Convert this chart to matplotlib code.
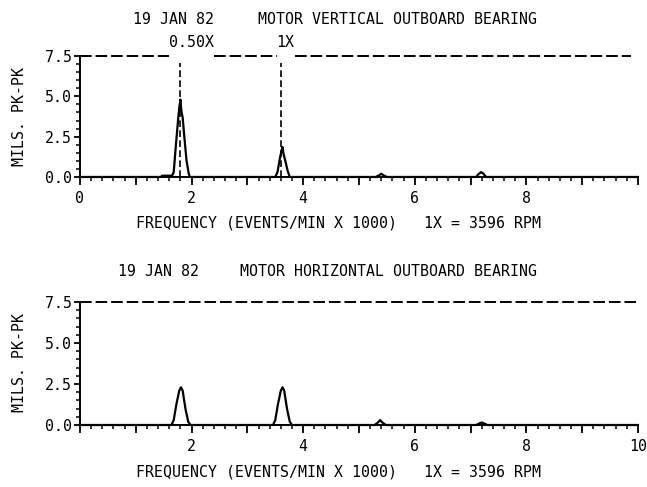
import matplotlib
matplotlib.use("Agg")
import matplotlib.pyplot as plt
from matplotlib.ticker import FixedLocator, FixedFormatter, MultipleLocator

plt.rcParams["font.family"] = ["DejaVu Sans Mono"]
plt.rcParams["font.size"] = 10.7

# running speed, events/min x 1000
run_1x = 3.596
alert_level = 7.5

# vertical outboard bearing spectrum
top_freq = [0.0, 1.45, 1.47, 1.65, 1.68, 1.72, 1.76, 1.78, 1.80, 1.82, 1.84, 1.87, 1.91, 1.95, 1.97,
            3.50, 3.54, 3.58, 3.61, 3.63, 3.65, 3.68, 3.72, 3.76,
            5.30, 5.36, 5.40, 5.44, 5.50,
            7.10, 7.15, 7.19, 7.23, 7.28, 10.0]
top_amp = [0, 0, 0.08, 0.08, 0.3, 2.0, 3.6, 4.3, 4.8, 4.0, 3.7, 2.5, 1.0, 0.2, 0,
           0, 0.3, 1.1, 1.6, 1.85, 1.4, 1.0, 0.4, 0,
           0, 0.1, 0.2, 0.1, 0,
           0, 0.2, 0.3, 0.2, 0, 0]

# horizontal outboard bearing spectrum
bot_freq = [0.0, 1.64, 1.68, 1.73, 1.78, 1.81, 1.84, 1.89, 1.94, 1.98,
            3.46, 3.50, 3.55, 3.60, 3.63, 3.66, 3.71, 3.76, 3.80,
            5.28, 5.34, 5.38, 5.42, 5.48,
            7.10, 7.16, 7.20, 7.24, 7.30, 10.0]
bot_amp = [0, 0, 0.3, 1.3, 2.1, 2.3, 2.1, 1.0, 0.2, 0,
           0, 0.3, 1.3, 2.1, 2.3, 2.1, 1.0, 0.2, 0,
           0, 0.15, 0.3, 0.15, 0,
           0, 0.1, 0.15, 0.1, 0, 0]

marker_orders = [0.5, 1.0]
marker_labels = ["0.50X", "1X"]
marker_top = 7.05

x_ticks = [0, 1, 2, 3, 4, 5, 6, 7, 8, 9, 10]
top_xticklabels = ["0", "", "2", "", "4", "", "6", "", "8", "", ""]
bot_xticklabels = ["", "", "2", "", "4", "", "6", "", "8", "", "10"]
y_ticks = [0.0, 2.5, 5.0, 7.5]
y_ticklabels = ["0.0", "2.5", "5.0", "7.5"]

xlabel = "FREQUENCY (EVENTS/MIN X 1000)   1X = 3596 RPM"


def style_axes(ax, xticklabels):
    ax.set_xlim(0, 10)
    ax.set_ylim(0, 7.5)
    for s in ["top", "right"]:
        ax.spines[s].set_visible(False)
    for s in ["left", "bottom"]:
        ax.spines[s].set_linewidth(1.4)
    ax.xaxis.set_major_locator(FixedLocator(x_ticks))
    ax.xaxis.set_major_formatter(FixedFormatter(xticklabels))
    ax.xaxis.set_minor_locator(MultipleLocator(0.2))
    ax.yaxis.set_major_locator(FixedLocator(y_ticks))
    ax.yaxis.set_major_formatter(FixedFormatter(y_ticklabels))
    ax.yaxis.set_minor_locator(MultipleLocator(0.5))
    ax.tick_params(axis="x", which="major", length=6, width=1.3, pad=4)
    ax.tick_params(axis="x", which="minor", length=3, width=1.1)
    ax.tick_params(axis="y", which="major", length=4, width=1.3, pad=2)
    ax.tick_params(axis="y", which="minor", length=3, width=1.1)


fig = plt.figure(figsize=(6.47, 4.87), dpi=100)
ax1 = fig.add_axes([0.1236, 0.6366, 0.8624, 0.2485])
ax2 = fig.add_axes([0.1236, 0.1273, 0.8624, 0.2526])

style_axes(ax1, top_xticklabels)
style_axes(ax2, bot_xticklabels)

ax1.plot(top_freq, top_amp, color="black", lw=1.6, clip_on=False)
ax2.plot(bot_freq, bot_amp, color="black", lw=1.6, clip_on=False)

#order markers on the top plot
marker_texts = []
for order, lab, dx in zip(marker_orders, marker_labels, [11, 5]):
    f = order * run_1x
    ax1.plot([f, f], [0, marker_top], color="black", lw=1.2, ls=(0, (4, 2)), clip_on=False)
    t = ax1.annotate(lab, xy=(f, alert_level), xytext=(dx, 13), textcoords="offset pixels",
                     ha="center", va="center", annotation_clip=False)
    marker_texts.append(t)

#alert line, broken under the marker labels
fig.canvas.draw()
inv = ax1.transData.inverted()
gaps = []
for t in marker_texts:
    bb = t.get_window_extent()
    x0 = inv.transform((bb.x0, 0))[0]
    x1 = inv.transform((bb.x1, 0))[0]
    gaps.append((x0, x1))
start = 0.0
for x0, x1 in gaps:
    ax1.plot([start, x0], [alert_level, alert_level], color="black", lw=1.4,
             ls=(0, (6, 2)), clip_on=False)
    start = x1
ax1.plot([start, 9.88], [alert_level, alert_level], color="black", lw=1.4,
         ls=(0, (6, 2)), clip_on=False)
ax2.plot([0, 9.97], [alert_level, alert_level], color="black", lw=1.4,
         ls=(0, (6, 2)), clip_on=False)

#titles and labels
fig.text(133 / 647, 1 - 20 / 487, "19 JAN 82", ha="left", va="center")
fig.text(258 / 647, 1 - 20 / 487, "MOTOR VERTICAL OUTBOARD BEARING", ha="left", va="center")
fig.text(118 / 647, 1 - 271 / 487, "19 JAN 82", ha="left", va="center")
fig.text(240 / 647, 1 - 271 / 487, "MOTOR HORIZONTAL OUTBOARD BEARING", ha="left", va="center")

fig.text(339 / 647, 1 - 223 / 487, xlabel, ha="center", va="center")
fig.text(339 / 647, 1 - 472 / 487, xlabel, ha="center", va="center")

fig.text(20 / 647, 1 - 116 / 487, "MILS. PK-PK", rotation=90, ha="center", va="center")
fig.text(20 / 647, 1 - 363 / 487, "MILS. PK-PK", rotation=90, ha="center", va="center")

fig.savefig("out.png", dpi=100)
